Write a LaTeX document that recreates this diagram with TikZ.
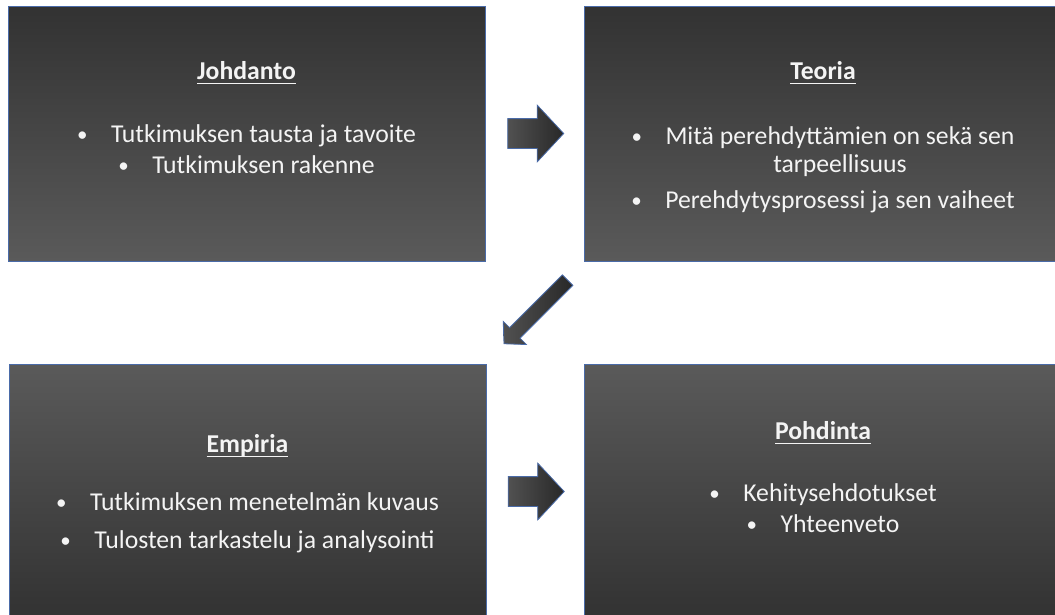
\documentclass[tikz,border=0pt]{standalone}
\usepackage{fontspec}
\setmainfont{Carlito}
\usetikzlibrary{shapes.arrows,calc}
\definecolor{reuna}{HTML}{4A6BA8}
\definecolor{tumma}{HTML}{323232}
\definecolor{vaalea}{HTML}{5A5A5A}
\definecolor{teksti}{HTML}{F4F4F4}
\newcommand{\alleviivaus}[1]{\setbox0\hbox{\bfseries #1}\rlap{\rule[-4.5pt]{\wd0}{1.6pt}}\box0}
\newcommand{\kohta}[1]{\makebox[34pt][l]{\raisebox{1pt}{\fontsize{21}{21}\selectfont\textbullet}}#1}
\begin{document}
\begin{tikzpicture}[x=1pt,y=-1pt,
    laatikko/.style={draw=reuna, line width=1pt, rectangle, minimum width=477pt, minimum height=255pt, inner sep=0pt},
    ylalaatikko/.style={laatikko, top color=tumma, bottom color=vaalea},
    alalaatikko/.style={laatikko, top color=vaalea, bottom color=tumma},
    teksti/.style={text=teksti, font=\fontsize{25.7}{31}\selectfont, align=center, anchor=north, inner sep=0pt},
    nuoli/.style={single arrow, draw=reuna, line width=0.8pt, inner xsep=0pt, minimum width=0pt, single arrow tip angle=94, left color=vaalea!90!black, right color=tumma!80!black}]
  \clip (0,0) rectangle (1055,614);
  \useasboundingbox (0,0) rectangle (1055,614);
  % laatikot
  \node[ylalaatikko] (johdanto) at (246.5,133.5) {};
  \node[ylalaatikko] (teoria) at (823,133.5) {};
  \node[alalaatikko] (empiria) at (247.5,491.5) {};
  \node[alalaatikko] (pohdinta) at (823,491.5) {};
  % tekstit
  \node[teksti] (johdanto-t) at ($(johdanto.north)+(0,56)$)
    {\alleviivaus{Johdanto}\\[32pt]\kohta{Tutkimuksen tausta ja tavoite}\\\kohta{Tutkimuksen rakenne}};
  \node[teksti] (teoria-t) at ($(teoria.north)+(0,56)$)
    {\alleviivaus{Teoria}\\[34pt]\kohta{Mitä perehdyttämien on sekä sen}\\[-3pt]\hspace*{34pt}tarpeellisuus\\[5pt]\kohta{Perehdytysprosessi ja sen vaiheet}};
  \node[teksti] (empiria-t) at ($(empiria.north)+(0,71)$)
    {\alleviivaus{Empiria}\\[27pt]\kohta{Tutkimuksen menetelmän kuvaus}\\[7pt]\kohta{Tulosten tarkastelu ja analysointi}};
  \node[teksti] (pohdinta-t) at ($(pohdinta.north)+(0,58)$)
    {\alleviivaus{Pohdinta}\\[31pt]\kohta{Kehitysehdotukset}\\\kohta{Yhteenveto}};
  % nuolet
  \node[nuoli, inner ysep=14.5pt, minimum height=56pt, single arrow head extend=13.5pt] (nuoli1)
    at ($(johdanto.east)!0.5!(teoria.west)+(-6,0)$) {};
  \node[nuoli, inner ysep=7pt, minimum height=90pt, single arrow head extend=9pt, rotate=225] (nuoli2)
    at ($(teoria.south west)!0.5!(empiria.north east)+(3,-3)$) {};
  \node[nuoli, inner ysep=14.5pt, minimum height=56pt, single arrow head extend=13.5pt] (nuoli3)
    at ($(empiria.east)!0.5!(pohdinta.west)+(-6,0)$) {};
\end{tikzpicture}
\end{document}
